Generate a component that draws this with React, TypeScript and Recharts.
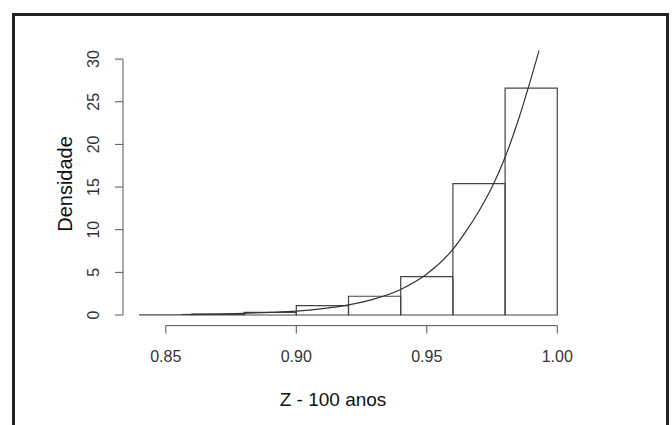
import { ComposedChart, Line, XAxis, YAxis, ReferenceArea, ReferenceLine } from "recharts";

// histogram bins (density, bin width 0.02)
const binStarts = [0.84, 0.86, 0.88, 0.9, 0.92, 0.94, 0.96, 0.98];
const binDensity = [0.02, 0.1, 0.3, 1.1, 2.2, 4.5, 15.4, 26.6];
const binWidth = 0.02;

// fitted density curve
const curveX = [0.856, 0.87, 0.88, 0.89, 0.9, 0.91, 0.92, 0.93, 0.94, 0.95, 0.96, 0.965, 0.97, 0.975, 0.98, 0.985, 0.99, 0.993];
const curveY = [0.06, 0.12, 0.2, 0.3, 0.45, 0.75, 1.2, 1.9, 3.0, 4.8, 7.7, 9.8, 12.2, 15.0, 18.5, 22.8, 27.8, 31.0];

const xTicks = [0.85, 0.9, 0.95, 1.0];
const yTicks = [0, 5, 10, 15, 20, 25, 30];

const xDomain = [0.8336, 1.0064];
const yDomain = [-1.24, 32.24];

const data = curveX.map((x, i) => ({ x, y: curveY[i] }));

const font = "Arial, 'Liberation Sans', sans-serif";

const XTick = (props: any) => {
  const { x, y, payload } = props;
  return (
    <text x={x} y={y + 21} dy="0.35em" textAnchor="middle" fontSize={16} fontFamily={font} fill="#333">
      {Number(payload.value).toFixed(2)}
    </text>
  );
};

const YTick = (props: any) => {
  const { x, y, payload } = props;
  return (
    <text
      transform={`translate(${x - 20}, ${y}) rotate(-90)`}
      dy="0.35em"
      textAnchor="middle"
      fontSize={16}
      fontFamily={font}
      fill="#333"
    >
      {payload.value}
    </text>
  );
};

export default function App() {
  return (
    <div style={{ position: "absolute", left: 0, top: 0, width: 672, height: 425, overflow: "hidden", background: "#fff" }}>
      <div
        style={{
          position: "absolute",
          left: 12,
          top: 13,
          width: 657,
          height: 440,
          boxSizing: "border-box",
          border: "3px solid #222",
          borderBottom: "none",
        }}
      />
      <ComposedChart
        width={672}
        height={425}
        data={data}
        margin={{ top: 40, right: 98, left: 63, bottom: 59.4 }}
        style={{ position: "absolute", left: 0, top: 0 }}
      >
        <XAxis
          dataKey="x"
          type="number"
          domain={xDomain}
          allowDataOverflow
          ticks={xTicks}
          axisLine={false}
          tickLine={{ stroke: "#555" }}
          tickSize={8}
          tickMargin={2}
          height={40}
          tick={XTick}
        />
        <YAxis
          type="number"
          domain={yDomain}
          allowDataOverflow
          ticks={yTicks}
          axisLine={false}
          tickLine={{ stroke: "#555" }}
          tickSize={8}
          tickMargin={2}
          width={60}
          tick={YTick}
        />
        <ReferenceLine
          segment={[{ x: xTicks[0], y: yDomain[0] }, { x: xTicks[xTicks.length - 1], y: yDomain[0] }]}
          stroke="#555"
          ifOverflow="visible"
        />
        <ReferenceLine
          segment={[{ x: xDomain[0], y: yTicks[0] }, { x: xDomain[0], y: yTicks[yTicks.length - 1] }]}
          stroke="#555"
          ifOverflow="visible"
        />
        {binStarts.map((b, i) => (
          <ReferenceArea
            key={b}
            x1={b}
            x2={b + binWidth}
            y1={0}
            y2={binDensity[i]}
            fill="none"
            fillOpacity={0}
            stroke="#444"
            strokeWidth={1.2}
            strokeOpacity={1}
            ifOverflow="visible"
          />
        ))}
        <Line
          type="monotone"
          dataKey="y"
          stroke="#333"
          strokeWidth={1.2}
          dot={false}
          activeDot={false}
          isAnimationActive={false}
        />
        <text x={65} y={184} transform="rotate(-90, 65, 184)" dy="0.35em" textAnchor="middle" fontSize={20} fontFamily={font} fill="#111">
          Densidade
        </text>
        <text x={333} y={399} dy="0.35em" textAnchor="middle" fontSize={19} fontFamily={font} fill="#111">
          Z - 100 anos
        </text>
      </ComposedChart>
    </div>
  );
}
